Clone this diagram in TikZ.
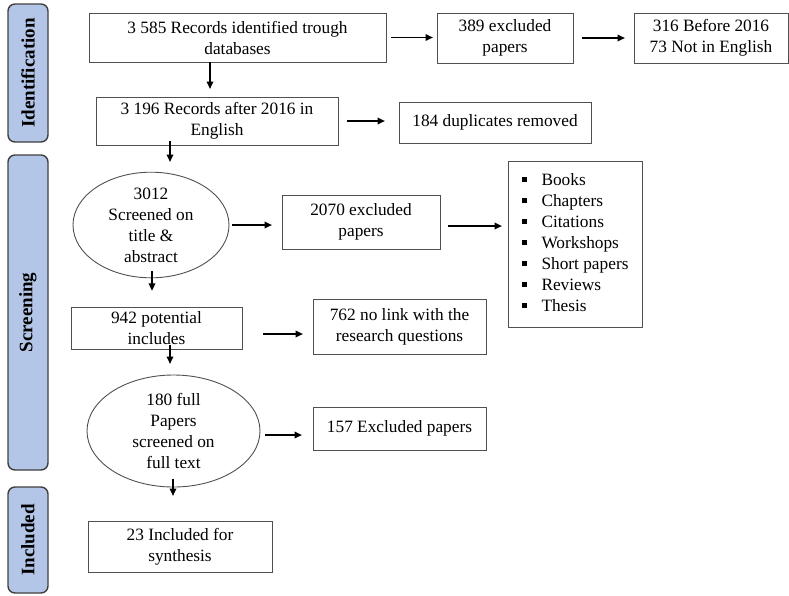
\documentclass[tikz,border=0pt]{standalone}
\usepackage{fontspec}
\setmainfont{Liberation Serif}
\usetikzlibrary{arrows.meta,shapes.geometric}
\definecolor{sidefill}{HTML}{B4C6E7}
\definecolor{boxline}{HTML}{505050}
\begin{document}
\begin{tikzpicture}[x=1pt,y=-1pt,
  every node/.style={inner sep=0pt,outer sep=0pt},
  txt/.style={font=\fontsize{17.3}{21}\selectfont,align=center},
  box/.style={txt,draw=boxline,line width=0.9pt,rectangle},
  ell/.style={txt,draw=boxline,line width=0.9pt,ellipse},
  side/.style={draw=black!75,line width=1.4pt,fill=sidefill,rounded corners=7pt,
    rotate=90,font=\fontsize{19}{22}\selectfont\bfseries,minimum height=40pt},
  arr/.style={line width=1.9pt,-{Triangle[length=7.5pt,width=6.5pt]}}
]
\useasboundingbox (0,0) rectangle (789,595);

% side labels
\node[side,minimum width=138pt] (sid) at (28,73) {Identification};
\node[side,minimum width=315pt] (ssc) at (28,312.5) {Screening};
\node[side,minimum width=106pt] (sin) at (28,540) {Included};

% identification
\node[box,minimum width=297pt,minimum height=49pt] (b1) at (237.5,37.5)
  {3 585 Records identified trough\\databases};
\node[box,minimum width=136pt,minimum height=50pt] (b389) at (505,38)
  {389 excluded\\papers};
\node[box,minimum width=154pt,minimum height=50pt] (b316) at (711,38)
  {316 Before 2016\\73 Not in English};
\node[box,minimum width=242pt,minimum height=48pt] (b2) at (217,121)
  {3 196 Records after 2016 in\\English};
\node[box,minimum width=192pt,minimum height=41pt] (b184) at (495,122.5)
  {184 duplicates removed};

% screening
\node[ell,minimum width=156pt,minimum height=104pt] (e1) at (151,225)
  {3012\\Screened on\\title \&\\abstract};
\node[box,minimum width=158pt,minimum height=54pt] (b2070) at (361,222)
  {2070 excluded\\papers};
\node[box,minimum width=134pt,minimum height=166pt] (blist) at (575,244)
  {\begin{tabular}{@{}l@{\hspace{15pt}}l@{}}
   \raisebox{3pt}{\rule{5pt}{5pt}} & Books\\
   \raisebox{3pt}{\rule{5pt}{5pt}} & Chapters\\
   \raisebox{3pt}{\rule{5pt}{5pt}} & Citations\\
   \raisebox{3pt}{\rule{5pt}{5pt}} & Workshops\\
   \raisebox{3pt}{\rule{5pt}{5pt}} & Short papers\\
   \raisebox{3pt}{\rule{5pt}{5pt}} & Reviews\\
   \raisebox{3pt}{\rule{5pt}{5pt}} & Thesis
   \end{tabular}};
\node[box,minimum width=171pt,minimum height=42pt] (b942) at (156.5,328)
  {942 potential\\includes};
\node[box,minimum width=173pt,minimum height=55pt] (b762) at (399.5,326.5)
  {762 no link with the\\research questions};
\node[ell,minimum width=173pt,minimum height=112pt] (e2) at (173.5,431)
  {180 full\\Papers\\screened on\\full text};
\node[box,minimum width=173pt,minimum height=43pt] (b157) at (399.5,428.5)
  {157 Excluded papers};

% included
\node[box,minimum width=184pt,minimum height=51pt] (b23) at (180,546.5)
  {23 Included for\\synthesis};

% arrows
\draw[arr] ([xshift=5pt]b1.east) -- ([xshift=-4pt]b1.east -| b389.west);
\draw[arr] ([xshift=9pt]b389.east) -- ([xshift=-9pt]b389.east -| b316.west);
\draw[arr] ([xshift=9pt]b2.east) -- ([xshift=-14pt]b2.east -| b184.west);
\draw[arr] ([xshift=-27.5pt]b1.south) -- ++(0,27);
\draw[arr] ([xshift=-47pt,yshift=4pt]b2.south) -- ++(0,21);
\draw[arr] ([xshift=3pt]e1.east) -- ([xshift=-10pt]e1.east -| b2070.west);
\draw[arr] ([xshift=8pt,yshift=-4pt]b2070.east) -- ([xshift=-6pt,yshift=-4pt]b2070.east -| blist.west);
\draw[arr] ([xshift=1pt,yshift=7pt]e1.south) -- ++(0,20);
\draw[arr] ([xshift=21pt,yshift=-6pt]b942.east) -- ([xshift=-10pt,yshift=-6pt]b942.east -| b762.west);
\draw[arr] ([xshift=13.5pt,yshift=4pt]b942.south) -- ++(0,19);
\draw[arr] ([xshift=5pt,yshift=-4pt]e2.east) -- ([xshift=-11pt,yshift=-4pt]e2.east -| b157.west);
\draw[arr] ([xshift=-0.5pt,yshift=8pt]e2.south) -- ++(0,17);
\end{tikzpicture}
\end{document}
